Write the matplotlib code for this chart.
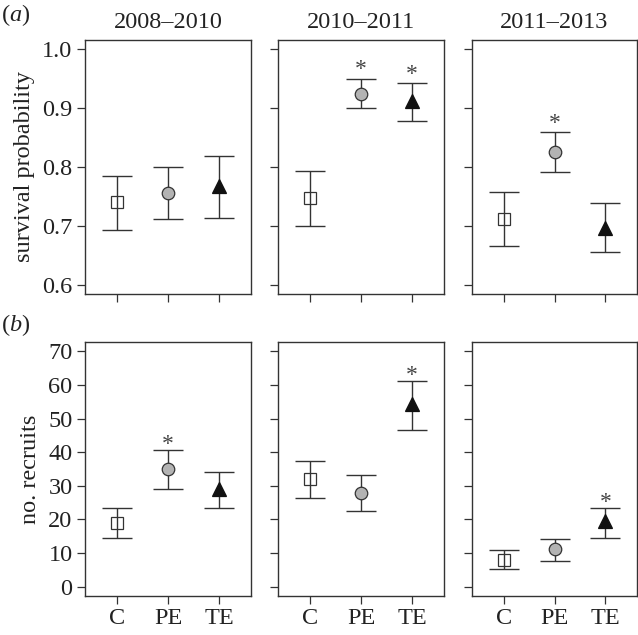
import matplotlib
matplotlib.use("Agg")
import matplotlib.pyplot as plt
import matplotlib.font_manager as fm

cands = ['Liberation Serif', 'Tinos', 'TeX Gyre Termes', 'DejaVu Serif']
avail = set(f.name for f in fm.fontManager.ttflist)
SERIF = [c for c in cands if c in avail]
plt.rcParams['font.family'] = SERIF
plt.rcParams['mathtext.fontset'] = 'custom'
plt.rcParams['mathtext.rm'] = SERIF[0]
plt.rcParams['mathtext.it'] = SERIF[0] + ':italic'

periods = ["2008–2010", "2010–2011", "2011–2013"]
treatments = ["C", "PE", "TE"]

# survival probability: mean, lower, upper per period (C, PE, TE)
surv_mean = [[0.740, 0.755, 0.767], [0.748, 0.924, 0.912], [0.711, 0.825, 0.697]]
surv_low = [[0.693, 0.711, 0.713], [0.700, 0.900, 0.878], [0.665, 0.792, 0.655]]
surv_high = [[0.785, 0.800, 0.819], [0.794, 0.950, 0.943], [0.757, 0.859, 0.738]]
surv_sig = [[False, False, False], [False, True, True], [False, True, False]]

# number of recruits
rec_mean = [[19.0, 35.0, 29.0], [31.9, 28.0, 54.2], [7.9, 11.1, 19.4]]
rec_low = [[14.4, 29.0, 23.5], [26.3, 22.5, 46.6], [5.1, 7.7, 14.5]]
rec_high = [[23.3, 40.8, 34.2], [37.4, 33.2, 61.1], [10.9, 14.2, 23.3]]
rec_sig = [[False, True, False], [False, False, True], [False, False, True]]

surv_ticks = [0.6, 0.7, 0.8, 0.9, 1.0]
rec_ticks = [0, 10, 20, 30, 40, 50, 60, 70]

W, H = 638, 635
fig = plt.figure(figsize=(W / 100, H / 100), dpi=100)

dark = '#333333'
txt = '#222222'
markers = [dict(marker='s', mfc='none', mec=dark, ms=8.5, mew=0.9),
           dict(marker='o', mfc='#b3b3b3', mec=dark, ms=9, mew=0.9),
           dict(marker='^', mfc='#111111', mec='#111111', ms=10, mew=0.9)]

col_x = [(85, 251), (278, 444), (472, 637)]
row_y = [(40, 294), (342, 596)]
fs = 17.5

def add_ax(x0, x1, y0, y1):
    return fig.add_axes([x0 / W, 1 - y1 / H, (x1 - x0) / W, (y1 - y0) / H])

rows = [(surv_mean, surv_low, surv_high, surv_sig, surv_ticks, (0.584, 1.016), 0.015, "survival probability"),
        (rec_mean, rec_low, rec_high, rec_sig, rec_ticks, (-2.8, 72.8), 1.6, "no. recruits")]

for r, (mean, low, high, sig, ticks, ylim, soff, ylabel) in enumerate(rows):
    for c in range(3):
        ax = add_ax(col_x[c][0], col_x[c][1], row_y[r][0], row_y[r][1])
        for i in range(3):
            xpos = i + 1
            ax.errorbar([xpos], [mean[c][i]],
                        yerr=[[mean[c][i] - low[c][i]], [high[c][i] - mean[c][i]]],
                        fmt='none', ecolor=dark, elinewidth=1.0, capsize=11, capthick=1.0, zorder=2)
            ax.plot([xpos], [mean[c][i]], linestyle='none', zorder=3, **markers[i])
            if sig[c][i]:
                ax.text(xpos, high[c][i] + soff, "*", ha='center', va='center',
                        fontsize=17, color='#444444')
        ax.set_xlim(0.38, 3.62)
        ax.set_ylim(*ylim)
        ax.set_xticks([1, 2, 3])
        ax.set_yticks(ticks)
        ax.tick_params(direction='out', length=6, width=0.9, color=dark,
                       labelsize=fs, labelcolor=txt, pad=3)
        for s in ax.spines.values():
            s.set_color(dark)
            s.set_linewidth(1.0)
        if c == 0:
            ax.set_yticklabels([f"{t:.1f}" if r == 0 else f"{t}" for t in ticks])
            ax.set_ylabel(ylabel, fontsize=fs, color=txt, labelpad=5)
        else:
            ax.set_yticklabels([])
        if r == 1:
            ax.set_xticklabels(treatments)
        else:
            ax.set_xticklabels([])
            ax.set_title(periods[c], fontsize=fs, color=txt, pad=9)

fig.text(1 / W, 1 - 15 / H, "($a$)", fontsize=fs, color=txt, va='center', ha='left')
fig.text(1 / W, 1 - 325 / H, "($b$)", fontsize=fs, color=txt, va='center', ha='left')

fig.savefig("out.png", dpi=100)
